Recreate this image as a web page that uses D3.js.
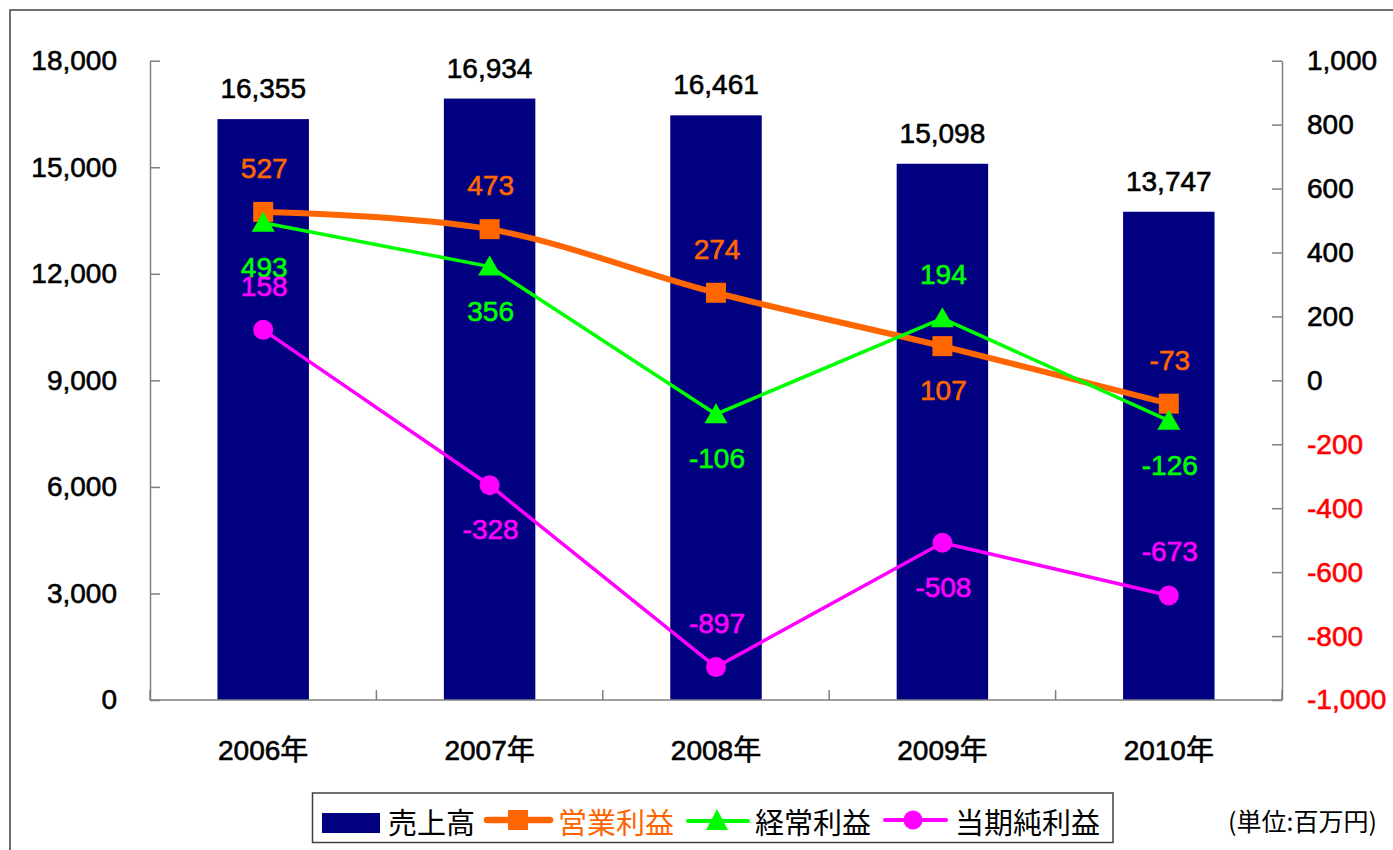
<!DOCTYPE html>
<html>
<head>
<meta charset="utf-8">
<script src="https://cdn.jsdelivr.net/npm/d3@7/dist/d3.min.js"></script>
<style>
  html, body { margin: 0; padding: 0; background: #fff; }
  svg { display: block; }
  text { font-family: "Liberation Sans", Arial, "Noto Sans CJK JP", sans-serif; }
  .heavy { stroke-width: 0.6px; paint-order: stroke; }
</style>
</head>
<body>
<svg id="chart" width="1393" height="850"></svg>
<script>
// ---------- data ----------
const years = ["2006年", "2007年", "2008年", "2009年", "2010年"];
const sales = [16355, 16934, 16461, 15098, 13747];          // 売上高 (left axis)
const operatingProfit = [527, 473, 274, 107, -73];          // 営業利益 (right axis)
const ordinaryProfit = [493, 356, -106, 194, -126];         // 経常利益 (right axis)
const netProfit = [158, -328, -897, -508, -673];            // 当期純利益 (right axis)
const leftTicks = [0, 3000, 6000, 9000, 12000, 15000, 18000];
const rightTicks = [-1000, -800, -600, -400, -200, 0, 200, 400, 600, 800, 1000];
const seriesNames = ["売上高", "営業利益", "経常利益", "当期純利益"];
const unitLabel = "(単位:百万円)";

// label placement (layout): -1 above the point, +1 below
const opPlace = [-1, -1, -1, 1, -1];
const ordPlace = [1, 1, 1, -1, 1];
const netPlace = [-1, 1, -1, 1, -1];

// ---------- setup ----------
const svg = d3.select("#chart");
const navy = "#000080", orange = "#FF6600", green = "#00FF00", magenta = "#FF00FF";
const axisColor = "#808080";
const plotLeft = 150, plotRight = 1282, plotTop = 60.7, plotBottom = 700;

const fmt = d3.formatLocale({decimal: ".", thousands: ",", grouping: [3], currency: ["", ""], minus: "-"}).format(",");

// outer frame
svg.append("rect").attr("x", 10).attr("y", 10).attr("width", 1420).attr("height", 900)
  .attr("fill", "#fff").attr("stroke", "#404040").attr("stroke-width", 1.5);

const x = d3.scaleBand().domain(years).range([plotLeft, plotRight]).padding(0);
const yL = d3.scaleLinear().domain([0, 18000]).range([plotBottom, plotTop]);
const yR = d3.scaleLinear().domain([-1000, 1000]).range([plotBottom, plotTop]);
const cx = d => x(d) + x.bandwidth() / 2;
const barW = x.bandwidth() * 0.404;

// bars
svg.append("g").selectAll("rect").data(years).join("rect")
  .attr("x", d => cx(d) - barW / 2)
  .attr("y", (d, i) => yL(sales[i]))
  .attr("width", barW)
  .attr("height", (d, i) => yL(0) - yL(sales[i]))
  .attr("fill", navy);

// left axis
const gL = svg.append("g").attr("transform", `translate(${plotLeft},0)`)
  .call(d3.axisLeft(yL).tickValues(leftTicks).tickFormat(fmt).tickSizeInner(-10).tickSizeOuter(0).tickPadding(33));
gL.select(".domain").attr("stroke", axisColor).attr("stroke-width", 1.5);
gL.selectAll(".tick line").attr("stroke", axisColor).attr("stroke-width", 1.5);
gL.selectAll(".tick text").attr("font-size", 28).attr("fill", "#000").attr("stroke", "#000").attr("class", "heavy")
  .attr("font-family", "Liberation Sans, Arial, sans-serif");

// right axis
const gR = svg.append("g").attr("transform", `translate(${plotRight},0)`)
  .call(d3.axisRight(yR).tickValues(rightTicks).tickFormat(fmt).tickSizeInner(-10).tickSizeOuter(0).tickPadding(25));
gR.select(".domain").attr("stroke", axisColor).attr("stroke-width", 1.5);
gR.selectAll(".tick line").attr("stroke", axisColor).attr("stroke-width", 1.5);
gR.selectAll(".tick text").attr("font-size", 28).attr("class", "heavy")
  .attr("fill", d => d < 0 ? "#FF0000" : "#000")
  .attr("stroke", d => d < 0 ? "#FF0000" : "#000")
  .attr("font-family", "Liberation Sans, Arial, sans-serif");

// bottom axis
const gB = svg.append("g");
gB.append("line").attr("x1", plotLeft).attr("x2", plotRight).attr("y1", plotBottom).attr("y2", plotBottom)
  .attr("stroke", axisColor).attr("stroke-width", 1.5);
const bounds = years.map(d => x(d)).concat([plotRight]);
gB.selectAll("line.tk").data(bounds).join("line").attr("class", "tk")
  .attr("x1", d => d).attr("x2", d => d).attr("y1", plotBottom).attr("y2", plotBottom - 10)
  .attr("stroke", axisColor).attr("stroke-width", 1.5);
gB.selectAll("text").data(years).join("text").attr("class", "heavy")
  .attr("x", d => cx(d)).attr("y", 760).attr("text-anchor", "middle")
  .attr("font-size", 28).attr("fill", "#000").attr("stroke", "#000").text(d => d);

// lines
const opLine = d3.line().x((d, i) => cx(years[i])).y(d => yR(d)).curve(d3.curveCardinal.tension(0));
const straight = d3.line().x((d, i) => cx(years[i])).y(d => yR(d));

svg.append("path").attr("d", opLine(operatingProfit)).attr("fill", "none")
  .attr("stroke", orange).attr("stroke-width", 6).attr("stroke-linejoin", "round");
svg.append("g").selectAll("rect").data(operatingProfit).join("rect")
  .attr("x", (d, i) => cx(years[i]) - 10).attr("y", d => yR(d) - 10)
  .attr("width", 20).attr("height", 20).attr("fill", orange);

svg.append("path").attr("d", straight(ordinaryProfit)).attr("fill", "none")
  .attr("stroke", green).attr("stroke-width", 3.5);
svg.append("g").selectAll("path").data(ordinaryProfit).join("path")
  .attr("d", "M0,-11L11.5,9L-11.5,9Z")
  .attr("transform", (d, i) => `translate(${cx(years[i])},${yR(d)})`)
  .attr("fill", green);

svg.append("path").attr("d", straight(netProfit)).attr("fill", "none")
  .attr("stroke", magenta).attr("stroke-width", 3.5);
svg.append("g").selectAll("circle").data(netProfit).join("circle")
  .attr("cx", (d, i) => cx(years[i])).attr("cy", d => yR(d)).attr("r", 10)
  .attr("fill", magenta);

// data labels
svg.append("g").selectAll("text").data(sales).join("text").attr("class", "heavy")
  .attr("x", (d, i) => cx(years[i])).attr("y", d => yL(d) - 21)
  .attr("text-anchor", "middle").attr("font-size", 28).attr("fill", "#000").attr("stroke", "#000")
  .text(d => fmt(d));

function pointLabels(vals, place, color) {
  svg.append("g").selectAll("text").data(vals).join("text").attr("class", "heavy")
    .attr("x", (d, i) => cx(years[i]) + 1)
    .attr("y", (d, i) => yR(d) + place[i] * 44 + 10)
    .attr("text-anchor", "middle").attr("font-size", 28).attr("fill", color).attr("stroke", color)
    .text(d => String(d));
}
pointLabels(operatingProfit, opPlace, orange);
pointLabels(ordinaryProfit, ordPlace, green);
pointLabels(netProfit, netPlace, magenta);

// legend
const lg = svg.append("g");
lg.append("rect").attr("x", 312.5).attr("y", 793).attr("width", 800.5).attr("height", 49.5)
  .attr("fill", "#fff").attr("stroke", "#404040").attr("stroke-width", 1.5);
const ly = 821;
lg.append("rect").attr("x", 322).attr("y", 813).attr("width", 58).attr("height", 20).attr("fill", navy);
lg.append("line").attr("x1", 487).attr("x2", 550).attr("y1", ly - 1).attr("y2", ly - 1)
  .attr("stroke", orange).attr("stroke-width", 6.5).attr("stroke-linecap", "round");
lg.append("rect").attr("x", 508).attr("y", ly - 11).attr("width", 20).attr("height", 20).attr("fill", orange);
lg.append("line").attr("x1", 688).attr("x2", 748).attr("y1", ly).attr("y2", ly)
  .attr("stroke", green).attr("stroke-width", 4).attr("stroke-linecap", "round");
lg.append("path").attr("d", "M0,-11L11,10L-11,10Z").attr("transform", `translate(717,${ly - 1})`).attr("fill", green);
lg.append("line").attr("x1", 885).attr("x2", 946).attr("y1", ly - 1).attr("y2", ly - 1)
  .attr("stroke", magenta).attr("stroke-width", 4).attr("stroke-linecap", "round");
lg.append("circle").attr("cx", 913).attr("cy", ly - 1).attr("r", 9.5).attr("fill", magenta);

const legendText = [
  {x: 388, c: "#000"}, {x: 558, c: orange}, {x: 755, c: "#000"}, {x: 955, c: "#000"}
];
lg.selectAll("text.lt").data(seriesNames).join("text").attr("class", "lt")
  .attr("x", (d, i) => legendText[i].x).attr("y", ly).attr("dominant-baseline", "central")
  .attr("font-size", 29).attr("fill", (d, i) => legendText[i].c)
  .style("font-family", "'Noto Sans CJK JP', sans-serif")
  .text(d => d);

svg.append("text").attr("x", 1228).attr("y", 820).attr("dominant-baseline", "central")
  .attr("font-size", 25).attr("fill", "#000")
  .style("font-family", "'Noto Sans CJK JP', sans-serif")
  .text(unitLabel);
</script>
</body>
</html>
